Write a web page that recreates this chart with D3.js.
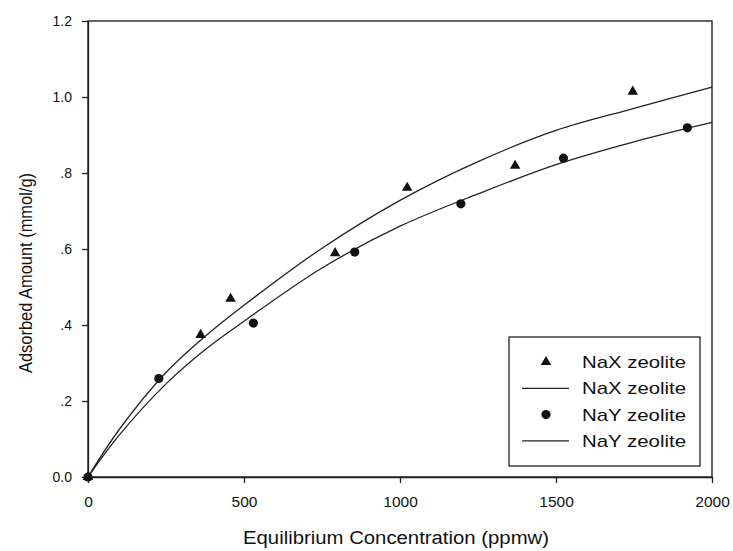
<!DOCTYPE html>
<html>
<head>
<meta charset="utf-8">
<script src="https://cdn.jsdelivr.net/npm/d3@7"></script>
<style>
  body { margin: 0; background: #fff; }
  text { font-family: "Liberation Sans", Arial, Helvetica, sans-serif; fill: #111; }
</style>
</head>
<body>
<div id="chart"></div>
<script>
// measured points (ppmw, mmol/g)
const naxConc = [0, 361, 457, 792, 1023, 1369, 1746];
const naxAmount = [0, 0.374, 0.469, 0.589, 0.761, 0.819, 1.014];
const nayConc = [0, 227, 530, 855, 1195, 1524, 1921];
const nayAmount = [0, 0.259, 0.405, 0.592, 0.719, 0.839, 0.919];

// fitted curves
const fitConc = [0, 100, 250, 375, 500, 750, 1000, 1250, 1500, 1750, 2000];
const naxFit = [0, 0.125, 0.275, 0.37, 0.452, 0.602, 0.728, 0.83, 0.912, 0.97, 1.026];
const nayFit = [0, 0.11, 0.245, 0.335, 0.41, 0.55, 0.66, 0.745, 0.822, 0.882, 0.933];

const xTicks = [0, 500, 1000, 1500, 2000];
const yTicks = [0, 0.2, 0.4, 0.6, 0.8, 1.0, 1.2];
const yTickLabels = ["0.0", ".2", ".4", ".6", ".8", "1.0", "1.2"];
const legendLabels = ["NaX zeolite", "NaX zeolite", "NaY zeolite", "NaY zeolite"];

const width = 733, height = 551;
const plot = { left: 88, right: 712, top: 21, bottom: 477 };

const svg = d3.select("#chart")
  .append("svg")
  .attr("width", width)
  .attr("height", height);

const x = d3.scaleLinear().domain([0, 2000]).range([plot.left, plot.right]);
const y = d3.scaleLinear().domain([0, 1.2]).range([plot.bottom, plot.top]);

// =========================
// AXES + FRAME
// =========================
const xAxis = svg.append("g")
  .attr("transform", `translate(0,${plot.bottom})`)
  .call(d3.axisBottom(x).tickValues(xTicks).tickSize(6).tickSizeOuter(0).tickPadding(13).tickFormat(d3.format("d")));

const yAxis = svg.append("g")
  .attr("transform", `translate(${plot.left},0)`)
  .call(d3.axisLeft(y).tickValues(yTicks).tickSize(6).tickSizeOuter(0).tickPadding(10)
    .tickFormat((d, i) => yTickLabels[i]));

xAxis.selectAll("text").style("font-size", "15.5px");
yAxis.selectAll("text").style("font-size", "14px");
svg.selectAll(".domain, .tick line").attr("stroke", "#222").attr("stroke-width", 1.3);

svg.append("rect")
  .attr("x", plot.left)
  .attr("y", plot.top)
  .attr("width", plot.right - plot.left)
  .attr("height", plot.bottom - plot.top)
  .attr("fill", "none")
  .attr("stroke", "#222")
  .attr("stroke-width", 1.4);

// =========================
// FITTED CURVES
// =========================
const line = d3.line()
  .x(d => x(d[0]))
  .y(d => y(d[1]))
  .curve(d3.curveCatmullRom.alpha(0.5));

[naxFit, nayFit].forEach(fit => {
  svg.append("path")
    .datum(fitConc.map((c, i) => [c, fit[i]]))
    .attr("d", line)
    .attr("fill", "none")
    .attr("stroke", "#222")
    .attr("stroke-width", 1.3);
});

// =========================
// DATA POINTS
// =========================
const triangle = d3.symbol().type(d3.symbolTriangle).size(48);

svg.append("g")
  .selectAll("path")
  .data(naxConc.map((c, i) => [c, naxAmount[i]]))
  .join("path")
  .attr("d", triangle)
  .attr("transform", d => `translate(${x(d[0])},${y(d[1])})`)
  .attr("fill", "#111");

svg.append("g")
  .selectAll("circle")
  .data(nayConc.map((c, i) => [c, nayAmount[i]]))
  .join("circle")
  .attr("cx", d => x(d[0]))
  .attr("cy", d => y(d[1]))
  .attr("r", 4.6)
  .attr("fill", "#111");

// =========================
// AXIS LABELS
// =========================
svg.append("text")
  .attr("x", 396)
  .attr("y", 544)
  .attr("text-anchor", "middle")
  .attr("textLength", 306)
  .attr("lengthAdjust", "spacingAndGlyphs")
  .style("font-size", "18px")
  .text("Equilibrium Concentration (ppmw)");

svg.append("text")
  .attr("transform", "translate(32,273) rotate(-90)")
  .attr("text-anchor", "middle")
  .attr("textLength", 200)
  .attr("lengthAdjust", "spacingAndGlyphs")
  .style("font-size", "17.5px")
  .text("Adsorbed Amount (mmol/g)");

// =========================
// LEGEND
// =========================
const legend = svg.append("g");

legend.append("rect")
  .attr("x", 509)
  .attr("y", 337)
  .attr("width", 191)
  .attr("height", 129)
  .attr("fill", "#fff")
  .attr("stroke", "#222")
  .attr("stroke-width", 1.3);

legendLabels.forEach((label, i) => {
  const ly = 362 + i * 26.3;
  if (i === 0) {
    legend.append("path")
      .attr("d", triangle)
      .attr("transform", `translate(546,${ly})`)
      .attr("fill", "#111");
  } else if (i === 2) {
    legend.append("circle")
      .attr("cx", 546)
      .attr("cy", ly)
      .attr("r", 4.6)
      .attr("fill", "#111");
  } else {
    legend.append("line")
      .attr("x1", 522)
      .attr("x2", 569)
      .attr("y1", ly)
      .attr("y2", ly)
      .attr("stroke", "#222")
      .attr("stroke-width", 1.3);
  }
  legend.append("text")
    .attr("x", 582)
    .attr("y", ly)
    .attr("dy", "0.36em")
    .attr("textLength", 104)
    .attr("lengthAdjust", "spacingAndGlyphs")
    .style("font-size", "17px")
    .text(label);
});
</script>
</body>
</html>
